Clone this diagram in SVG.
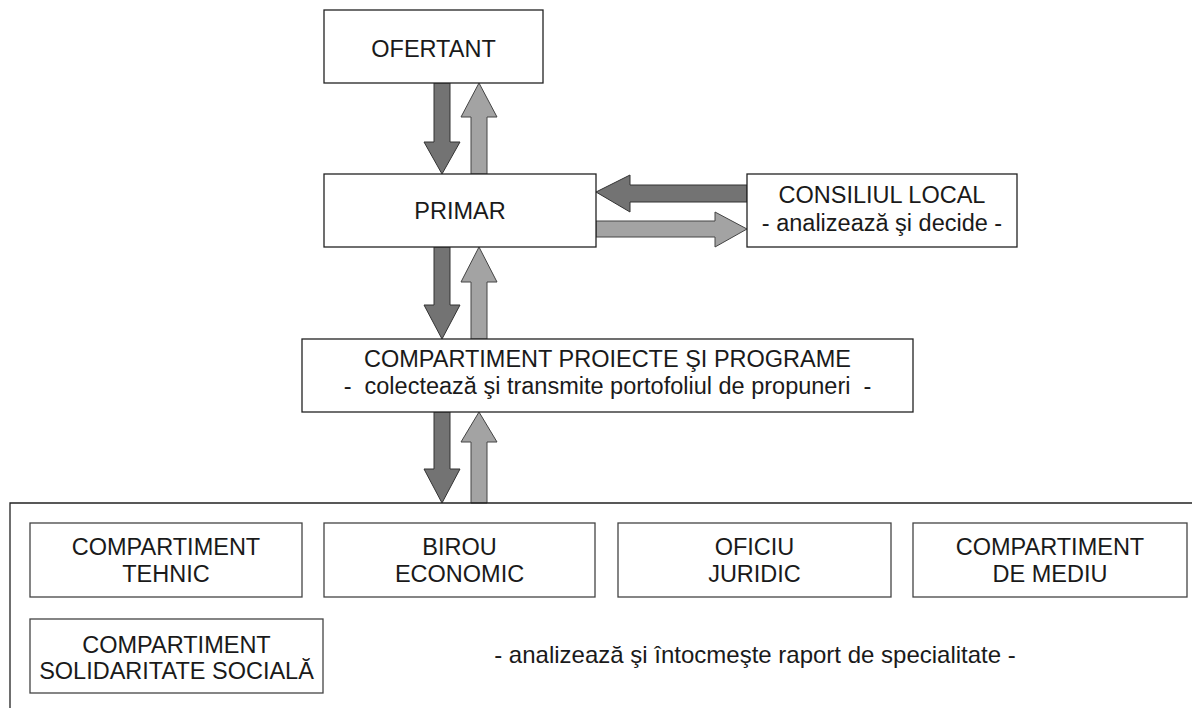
<svg xmlns="http://www.w3.org/2000/svg" width="1192" height="708" viewBox="0 0 1192 708">
<style>
.box{fill:#fff;stroke:#222;stroke-width:1.3}
.sub{fill:#fff;stroke:#444;stroke-width:1.3}
.t{font-family:"Liberation Sans",Arial,sans-serif;font-size:23.5px;fill:#1a1a1a;text-anchor:middle;white-space:pre}
.dk{fill:#737373;stroke:#333;stroke-width:1}
.lt{fill:#a3a3a3;stroke:#444;stroke-width:1}
</style>
<rect width="1192" height="708" fill="#fff"/>
<g id="connectors">
<polygon class="dk" points="434,83 450,83 450,142 460,142 442,174 424,142 434,142"/>
<polygon class="lt" points="479,83 497,117 487,117 487,174 471,174 471,117 461,117"/>
<polygon class="dk" points="434,247 450,247 450,305 460,305 442,339 424,305 434,305"/>
<polygon class="lt" points="479,247 497,282 487,282 487,339 471,339 471,282 461,282"/>
<polygon class="dk" points="434,412 450,412 450,469 460,469 442,503 424,469 434,469"/>
<polygon class="lt" points="479,412 497,442 487,442 487,503 471,503 471,442 461,442"/>
<polygon class="dk" points="596,192 630,175 630,185 747,185 747,202 630,202 630,212"/>
<polygon class="lt" points="596,221 715,221 715,212 747,229 715,247 715,237 596,237"/>
</g>
<g id="ofertant">
<rect class="box" x="324" y="10" width="219" height="73"/>
<text class="t" x="433.5" y="57">OFERTANT</text>
</g>
<g id="primar">
<rect class="box" x="324" y="174" width="272" height="73"/>
<text class="t" x="460" y="219">PRIMAR</text>
</g>
<g id="consiliul">
<rect class="box" x="747" y="174" width="270" height="73"/>
<text class="t" x="882" y="203">CONSILIUL LOCAL</text>
<text class="t" x="882" y="231">- analizează şi decide -</text>
</g>
<g id="cpp">
<rect class="box" x="302" y="339" width="611" height="73"/>
<text class="t" x="607.5" y="367">COMPARTIMENT PROIECTE ŞI PROGRAME</text>
<text class="t" x="607.5" y="394">-  colectează şi transmite portofoliul de propuneri  -</text>
</g>
<g id="container">
<path d="M10,708 V503 H1192" fill="none" stroke="#222" stroke-width="1.3"/>
<text class="t" x="755" y="663" style="font-size:24px">- analizează şi întocmeşte raport de specialitate -</text>
</g>
<g id="tehnic">
<rect class="sub" x="30" y="523" width="272" height="74"/>
<text class="t" x="166" y="555">COMPARTIMENT</text>
<text class="t" x="166" y="582">TEHNIC</text>
</g>
<g id="birou">
<rect class="sub" x="324" y="523" width="271" height="74"/>
<text class="t" x="459.5" y="555">BIROU</text>
<text class="t" x="459.5" y="582">ECONOMIC</text>
</g>
<g id="oficiu">
<rect class="sub" x="618" y="523" width="273" height="74"/>
<text class="t" x="754.5" y="555">OFICIU</text>
<text class="t" x="754.5" y="582">JURIDIC</text>
</g>
<g id="mediu">
<rect class="sub" x="913" y="523" width="274" height="74"/>
<text class="t" x="1050" y="555">COMPARTIMENT</text>
<text class="t" x="1050" y="582">DE MEDIU</text>
</g>
<g id="solidaritate">
<rect class="sub" x="30" y="619" width="293" height="74"/>
<text class="t" x="176.5" y="653">COMPARTIMENT</text>
<text class="t" x="176.5" y="679">SOLIDARITATE SOCIALĂ</text>
</g>
</svg>
